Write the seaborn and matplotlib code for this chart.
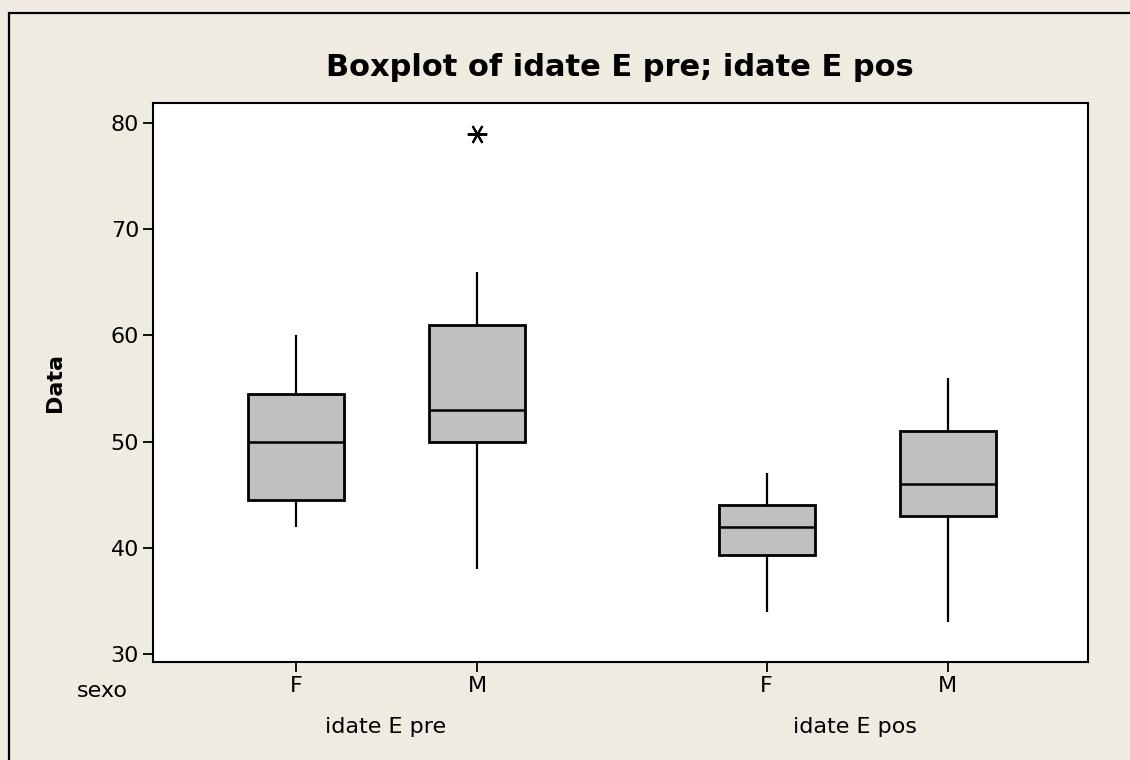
import numpy as np
import pandas as pd
import matplotlib
matplotlib.use("Agg")
import matplotlib.pyplot as plt
from matplotlib.patches import Rectangle
import seaborn as sns

# ---- data ----
variables = ["idate E pre", "idate E pos"]
sexo_levels = ["F", "M"]
pre_F = [42, 44.5, 44.5, 50, 54.5, 54.5, 60]
pre_M = [38, 50, 50, 53, 53, 61, 61, 66, 79]
pos_F = [34, 39.3, 39.3, 42, 44, 44, 47]
pos_M = [33, 43, 43, 46, 51, 51, 56]

groups = [("idate E pre", "F", pre_F), ("idate E pre", "M", pre_M),
          ("idate E pos", "F", pos_F), ("idate E pos", "M", pos_M)]

# layout: x positions of the boxes (gap between variables)
positions = [0.0, 1.0, 2.6, 3.6]

rows = []
for (var, sx, vals), p in zip(groups, positions):
    for v in vals:
        rows.append({"variable": var, "sexo": sx, "pos": p, "value": v})
df = pd.DataFrame(rows)

sns.set_style("white")
plt.rcParams["font.family"] = ["DejaVu Sans"]
plt.rcParams["text.color"] = "black"
plt.rcParams["axes.labelcolor"] = "black"
plt.rcParams["xtick.color"] = "black"
plt.rcParams["ytick.color"] = "black"

W, H = 1130, 760
bg = "#EFEBE1"
fig = plt.figure(figsize=(W / 100, H / 100), dpi=100, facecolor=bg)
ax = fig.add_axes([153 / W, 1 - 662 / H, (1088 - 153) / W, (662 - 103) / H])
ax.set_facecolor("white")

sns.boxplot(data=df, x="pos", y="value", native_scale=True, width=0.53,
            color="#C0C0C0", saturation=1, linecolor="black", linewidth=1.5,
            showcaps=False, ax=ax,
            boxprops=dict(edgecolor="black", linewidth=2.0),
            whiskerprops=dict(color="black", linewidth=1.6),
            medianprops=dict(color="black", linewidth=1.8),
            flierprops=dict(marker=(6, 2, 90), markersize=14,
                            markeredgecolor="black", markerfacecolor="black",
                            markeredgewidth=1.5))

ax.set_xlim(-0.79, 4.376)
ax.set_ylim(29.25, 81.88)
ax.set_yticks([30, 40, 50, 60, 70, 80])
ax.set_xticks(positions)
ax.set_xticklabels([g[1] for g in groups])
ax.set_xlabel("")
ax.set_ylabel("")
for s in ax.spines.values():
    s.set_visible(True)
    s.set_color("black")
    s.set_linewidth(1.5)
ax.tick_params(axis="both", direction="out", length=7, width=1.3,
               colors="black", labelcolor="black", labelsize=16, pad=3,
               bottom=True, left=True)

def fx(x):
    return x / W

def fy(y):
    return 1 - y / H

fig.text(fx(620), fy(67), "Boxplot of idate E pre; idate E pos",
         ha="center", va="center", fontsize=22, fontweight="bold",
         color="black")
fig.text(fx(55), fy(383), "Data", rotation=90, ha="center", va="center",
         fontsize=16, fontweight="bold", color="black")
fig.text(fx(102), fy(691), "sexo", ha="center", va="center", fontsize=16,
         color="black")
fig.text(fx(386), fy(727), variables[0], ha="center", va="center",
         fontsize=16, color="black")
fig.text(fx(855), fy(727), variables[1], ha="center", va="center",
         fontsize=16, color="black")

border = Rectangle((9 / W, -0.2), 1.5, fy(13) + 0.2, transform=fig.transFigure,
                   fill=False, edgecolor="black", linewidth=1.6, clip_on=False)
fig.patches.append(border)

fig.savefig("out.png", dpi=100, facecolor=bg)
